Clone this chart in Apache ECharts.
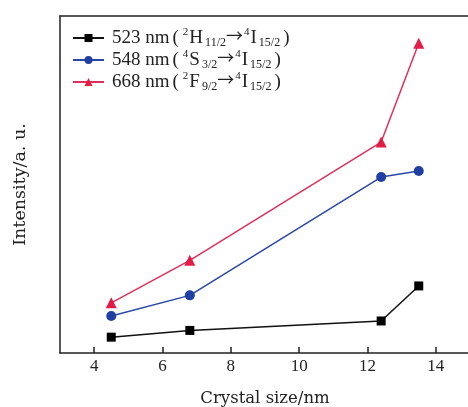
<!DOCTYPE html>
<html>
<head>
<meta charset="utf-8">
<script src="https://cdn.jsdelivr.net/npm/echarts@6/dist/echarts.min.js"></script>
<style>
  html, body { margin: 0; padding: 0; background: #fff; }
  #chart { width: 468px; height: 407px; }
</style>
</head>
<body>
<div id="chart"></div>
<script>
// Crystal size (nm) for each sample
const crystalSize = [4.5, 6.8, 12.4, 13.5];
// Emission intensities (arbitrary units)
const band523 = [4.7, 6.7, 9.5, 19.9];
const band548 = [11.0, 17.1, 52.2, 54.0];
const band668 = [14.9, 27.5, 62.6, 91.9];
// Axis tick labels
const xTicks = [4, 6, 8, 10, 12, 14];

const seriesNames = ['523', '548', '668'];
const legendText = {
  '523': '523 nm{p|(}{sup|2}H{sub|11/2}{ar|→}{sup|4}I{sub|15/2}{p|)}',
  '548': '548 nm{p|(}{sup|4}S{sub|3/2}{ar|→}{sup|4}I{sub|15/2}{p|)}',
  '668': '668 nm{p|(}{sup|2}F{sub|9/2}{ar|→}{sup|4}I{sub|15/2}{p|)}'
};

const serif = '"Liberation Serif", "DejaVu Serif", serif';
const wideSerif = '"DejaVu Serif", "Liberation Serif", serif';
const ink = '#222';
const pair = (xs, ys) => xs.map((x, i) => [x, ys[i]]);

const frameLine = { show: true, lineStyle: { color: ink, width: 1.5 } };

const chart = echarts.init(document.getElementById('chart'));
chart.setOption({
  animation: false,
  grid: {
    left: 60, top: 16, width: 410, bottom: 54,
    outerBoundsMode: 'none', containLabel: false, show: false
  },
  legend: {
    orient: 'vertical',
    left: 72, top: 27, padding: 0,
    itemWidth: 31, itemHeight: 10, itemGap: 0,
    data: seriesNames,
    formatter: name => legendText[name],
    textStyle: {
      fontFamily: serif, fontSize: 19, color: ink, lineHeight: 22,
      padding: [0, 0, 0, 3],
      rich: {
        p: { fontFamily: serif, fontSize: 19, color: ink, lineHeight: 22, padding: [0, 3, 0, 3] },
        ar: { fontFamily: '"Noto Sans CJK SC", "DejaVu Sans", sans-serif', fontSize: 17, color: ink, lineHeight: 20, verticalAlign: 'top' },
        sup: { fontFamily: serif, fontSize: 11, verticalAlign: 'top', lineHeight: 10, color: ink, padding: [0, 1, 0, 1] },
        sub: { fontFamily: serif, fontSize: 12, verticalAlign: 'bottom', lineHeight: 12, color: ink, padding: [0, 0, 0, 2] }
      }
    }
  },
  xAxis: [
    {
      type: 'value', min: 3, max: 15,
      name: 'Crystal size/nm', nameLocation: 'middle', nameGap: 37,
      nameTextStyle: { fontFamily: wideSerif, fontSize: 16.5, color: ink },
      axisLine: frameLine,
      axisTick: { show: true, inside: true, length: 6, customValues: xTicks, lineStyle: { color: ink, width: 1.5 } },
      axisLabel: { customValues: xTicks, fontFamily: serif, fontSize: 17, color: ink, margin: 5 },
      splitLine: { show: false }
    },
    {
      // top edge of the frame
      type: 'value', min: 3, max: 15, position: 'top',
      axisLine: frameLine, axisTick: { show: false }, axisLabel: { show: false }, splitLine: { show: false }
    }
  ],
  yAxis: {
    type: 'value', min: 0, max: 100,
    name: 'Intensity/a. u.', nameLocation: 'middle', nameGap: 31,
    nameTextStyle: { fontFamily: wideSerif, fontSize: 17.5, color: ink },
    axisLine: frameLine,
    axisTick: { show: false },
    axisLabel: { show: false },
    splitLine: { show: false }
  },
  series: [
    {
      name: '523', type: 'line', data: pair(crystalSize, band523),
      symbol: 'rect', symbolSize: 9,
      lineStyle: { color: '#111', width: 1.5 }, itemStyle: { color: '#000' }
    },
    {
      name: '548', type: 'line', data: pair(crystalSize, band548),
      symbol: 'circle', symbolSize: 10,
      lineStyle: { color: '#2a47a8', width: 1.5 }, itemStyle: { color: '#1f3fa3' }
    },
    {
      name: '668', type: 'line', data: pair(crystalSize, band668),
      symbol: 'triangle', symbolSize: 11,
      lineStyle: { color: '#e0305a', width: 1.5 }, itemStyle: { color: '#e21c44' }
    }
  ]
});
</script>
</body>
</html>
